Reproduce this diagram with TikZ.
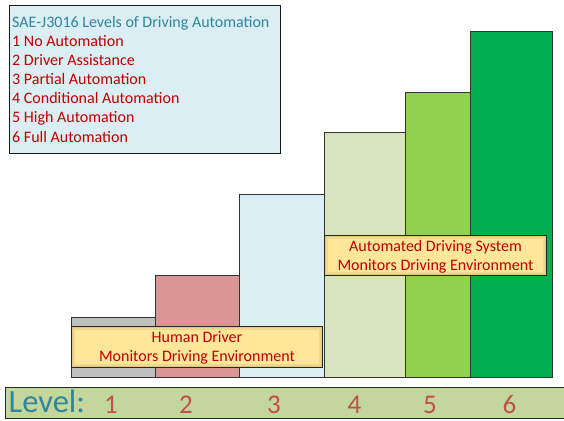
\documentclass[tikz,border=0pt]{standalone}
\usepackage{fontspec}
\setmainfont{Carlito}
\definecolor{cgray}{HTML}{BFBFBF}
\definecolor{cred}{HTML}{D99694}
\definecolor{cblue}{HTML}{DAEEF3}
\definecolor{cpale}{HTML}{D7E4BD}
\definecolor{clime}{HTML}{92D050}
\definecolor{cgreen}{HTML}{00B050}
\definecolor{cstrip}{HTML}{C3D69B}
\definecolor{cyel}{HTML}{FFE699}
\definecolor{cyeldk}{HTML}{C9B56F}
\definecolor{teal}{HTML}{31859C}
\definecolor{dred}{HTML}{C00000}
\definecolor{numred}{HTML}{C0504D}
\tikzset{
  bar/.style={draw=black!80, line width=0.8bp},
  txt/.style={inner sep=0pt, anchor=base west, font=\fontsize{16bp}{19bp}\selectfont},
  ctxt/.style={inner sep=0pt, anchor=base, font=\fontsize{16bp}{19bp}\selectfont, text=dred},
  num/.style={inner sep=0pt, anchor=base, font=\fontsize{27bp}{30bp}\selectfont, text=numred},
  ybox/.style={draw=black!85, line width=1bp, fill=cyeldk}
}
\newcommand{\yelbox}[4]{%
  \filldraw[ybox] (#1,#2) rectangle (#3,#4);
  \fill[cyeldk!60!cyel] ({#1+1},{#2+1}) rectangle ({#3-1},{#4-1});
  \fill[cyeldk!30!cyel] ({#1+2},{#2+2}) rectangle ({#3-2},{#4-2});
  \fill[cyel] ({#1+3.5},{#2+3.5}) rectangle ({#3-3.5},{#4-3.5});
  \draw[black!85, line width=1bp] (#1,#2) rectangle (#3,#4);
}
\begin{document}
\begin{tikzpicture}[x=1bp,y=-1bp]
\useasboundingbox (0,0) rectangle (564,420);
% bars
\filldraw[bar,fill=cgray] (71,317) rectangle (155,377);
\filldraw[bar,fill=cred] (155,275) rectangle (239,377);
\filldraw[bar,fill=cblue] (239,194) rectangle (324,377);
\filldraw[bar,fill=cpale] (324,132) rectangle (405,377);
\filldraw[bar,fill=clime] (405,92) rectangle (470,377);
\filldraw[bar,fill=cgreen] (470,31) rectangle (552,377);
% title box
\filldraw[draw=black!90, line width=1bp, fill=cblue] (9,5.5) rectangle (280,153);
\node[txt, text=teal] (t0) at (12,27.3) {SAE-J3016 Levels of Driving Automation};
\node[txt, text=dred] (t1) at (12,46.5) {1 No Automation};
\node[txt, text=dred] (t2) at (12,65.6) {2 Driver Assistance};
\node[txt, text=dred] (t3) at (12,84.7) {3 Partial Automation};
\node[txt, text=dred] (t4) at (12,103.8) {4 Conditional Automation};
\node[txt, text=dred] (t5) at (12,122.9) {5 High Automation};
\node[txt, text=dred] (t6) at (12,142) {6 Full Automation};
% yellow boxes
\yelbox{71}{326}{322.5}{367.5}
\node[ctxt] (h1) at (197,342.7) {Human Driver};
\node[ctxt] (h2) at (197,361.7) {Monitors Driving Environment};
\yelbox{324}{235}{546.5}{275.5}
\node[ctxt] (a1) at (435.5,251) {Automated Driving System};
\node[ctxt] (a2) at (435.5,270) {Monitors Driving Environment};
% level strip
\filldraw[draw=black!85, line width=1bp, fill=cstrip] (5,387.5) rectangle (570,418);
\node[inner sep=0pt, anchor=base west, font=\fontsize{32.5bp}{36bp}\selectfont, text=teal] (lv) at (8.5,412.3) {Level:};
\node[num] (n1) at (111,413.5) {1};
\node[num] (n2) at (186,413.5) {2};
\node[num] (n3) at (274,413.5) {3};
\node[num] (n4) at (354.5,413.5) {4};
\node[num] (n5) at (430,413.5) {5};
\node[num] (n6) at (509.5,413.5) {6};
\end{tikzpicture}
\end{document}
